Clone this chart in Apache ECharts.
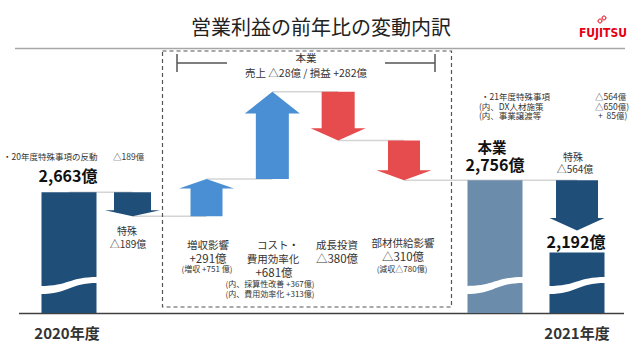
<!DOCTYPE html>
<html><head><meta charset="utf-8">
<script src="https://cdn.jsdelivr.net/npm/echarts/dist/echarts.min.js"></script>
<style>html,body{margin:0;padding:0;background:#fff}#c{width:641px;height:361px}</style>
</head><body><div id="c"></div>
<script>
// ---- data ----
const categories = ['2020年度','特殊','増収影響','コスト・費用効率化','成長投資','部材供給影響','本業','2021年度'];
const fy2020Profit = 2663;
const changeValues = [-189, 291, 681, -380, -310];   // 特殊, 増収影響, コスト・費用効率化, 成長投資, 部材供給影響
const special2021 = -564;
const fy2021Profit = 2192;
const bracketNote = ['本業', '売上 △28億 / 損益 +282億'];
const subNotes = {
  increase: ['(増収 +751 億)'],
  cost: ['(内、採算性改善 +367億)', '(内、費用効率化 +313億)'],
  supply: ['(減収△780億)']
};
const note2020 = ['・20年度特殊事項の反動', '△189億'];
const notes2021 = [['・21年度特殊事項', '△564億'], ['(内、DX人材施策', '△650億)'], ['(内、事業譲渡等', '+  85億)']];

// ---- derived ----
const levels = [fy2020Profit];
changeValues.forEach(d => levels.push(levels[levels.length - 1] + d));
const core2021 = levels[levels.length - 1];
const fmt = v => v.toLocaleString('en-US') + '億';
const fmtD = d => (d >= 0 ? '+' : '△') + Math.abs(d) + '億';

const yMin = 1720, yMax = 3850;
const navy = '#1f4e79', steel = '#6c8cab', blue = '#4a8fd3', red = '#e64b4e';
const JP = "'Noto Sans CJK JP','Noto Sans',sans-serif";

const items = [
  {grid:0, cat:0, kind:'bar', to:fy2020Profit, color:navy},
  {grid:0, cat:1, kind:'arrow', from:levels[0], to:levels[1], color:navy, bodyW:37},
  {grid:1, cat:0, kind:'arrow', from:levels[1], to:levels[2], color:blue, bodyW:32},
  {grid:1, cat:1, kind:'arrow', from:levels[2], to:levels[3], color:blue, bodyW:33},
  {grid:1, cat:2, kind:'arrow', from:levels[3], to:levels[4], color:red, bodyW:33},
  {grid:1, cat:3, kind:'arrow', from:levels[4], to:levels[5], color:red, bodyW:32},
  {grid:2, cat:0, kind:'bar', to:core2021, color:steel},
  {grid:2, cat:1, kind:'arrow', from:core2021, to:core2021 + special2021, color:navy, bodyW:42, tipGap:22},
  {grid:2, cat:1, kind:'bar', to:fy2021Profit, color:navy}
];
const gridCats = [categories.slice(0,2), categories.slice(2,6), categories.slice(6,8)];
const grids = [
  {left:37.25, width:127, top:40, bottom:48},
  {left:173.6, width:263.3, top:40, bottom:48},
  {left:454, width:164, top:40, bottom:48}
];

function makeRender(list) {
  return function (params, api) {
    const it = list[params.dataIndex];
    const c = api.value(0);
    const xc = api.coord([c, yMin])[0];
    const yb = api.coord([c, yMin])[1];
    if (it.kind === 'bar') {
      const w = 55, x0 = xc - w / 2, x1 = xc + w / 2;
      const yt = api.coord([c, api.value(2)])[1];
      const b = yb;
      const wave = `M${x0-1} ${b-27} C${x0+0.5*w} ${b-27} ${x1-0.5*w} ${b-36} ${x1+1} ${b-36} L${x1+1} ${b-30} C${x1-0.5*w} ${b-30} ${x0+0.5*w} ${b-19} ${x0-1} ${b-19} Z`;
      return {type:'group', children:[
        {type:'rect', shape:{x:x0, y:yt, width:w, height:yb - yt}, style:{fill:it.color}},
        {type:'path', shape:{pathData:wave}, style:{fill:'#fff'}}
      ]};
    }
    const yf = api.coord([c, api.value(1)])[1];
    let yto = api.coord([c, api.value(2)])[1];
    const dir = yto > yf ? 1 : -1;
    if (it.tipGap) yto -= dir * it.tipGap;
    const len = Math.abs(yto - yf);
    const hl = Math.max(6, 0.25 * len);
    const yh = yto - dir * hl;
    const bw = it.bodyW, hw = 55;
    const pts = [[xc-bw/2, yf],[xc+bw/2, yf],[xc+bw/2, yh],[xc+hw/2, yh],[xc, yto],[xc-hw/2, yh],[xc-bw/2, yh]];
    return {type:'polygon', shape:{points:pts}, style:{fill:it.color}};
  };
}

const series = [0,1,2].map(g => {
  const list = items.filter(it => it.grid === g);
  return {
    type:'custom', xAxisIndex:g, yAxisIndex:g, z:2,
    renderItem: makeRender(list),
    data: list.map(it => [it.cat, it.from == null ? yMin : it.from, it.to]),
    silent:true
  };
});

const chart = echarts.init(document.getElementById('c'), null, {renderer:'svg'});
chart.setOption({
  animation:false,
  grid: grids,
  xAxis: gridCats.map((d, i) => ({type:'category', data:d, gridIndex:i, show:false})),
  yAxis: [0,1,2].map(i => ({type:'value', gridIndex:i, min:yMin, max:yMax, show:false})),
  series
});

// connectors (through library scales)
const px = (it, v) => chart.convertToPixel({gridIndex:it.grid}, [it.cat, v]);
const seq = items.slice(0, 8);
const els = [];
for (let i = 0; i < seq.length - 1; i++) {
  const v = seq[i].to;
  const a = px(seq[i], v), b = px(seq[i+1], v);
  els.push({type:'line', z:0, shape:{x1:a[0], y1:a[1], x2:b[0], y2:b[1]}, style:{stroke:'#d4d4d4', lineWidth:1.5}});
}

function T(text, x, y, size, opt) {
  opt = opt || {};
  return {type:'text', z:10, style:{text, x, y, fill:opt.color || '#333',
    font:`${opt.weight || 'normal'} ${size}px ${opt.family || JP}`,
    lineHeight:size,
    align:opt.align || 'center', textAlign:opt.align || 'center',
    verticalAlign:'middle', textVerticalAlign:'middle'}};
}

// frame & decoration
els.push({type:'line', z:1, shape:{x1:15, y1:48.5, x2:625, y2:48.5}, style:{stroke:'#a6a6a6', lineWidth:1.5}});
els.push({type:'line', z:1, shape:{x1:19, y1:313.5, x2:624, y2:313.5}, style:{stroke:'#404040', lineWidth:1.5}});
els.push({type:'rect', z:1, shape:{x:162.5, y:51, width:289, height:256}, style:{fill:'none', stroke:'#555', lineWidth:1.2, lineDash:[4,3]}});
// bracket
const bk = {stroke:'#555', lineWidth:1.5};
els.push({type:'line', z:1, shape:{x1:177, y1:54, x2:177, y2:72}, style:bk});
els.push({type:'line', z:1, shape:{x1:177, y1:63, x2:227, y2:63}, style:bk});
els.push({type:'line', z:1, shape:{x1:385, y1:63, x2:435, y2:63}, style:bk});
els.push({type:'line', z:1, shape:{x1:435, y1:54, x2:435, y2:72}, style:bk});

// title & logo
els.push(T('営業利益の前年比の変動内訳', 321, 26, 20, {color:'#222'}));
els.push(T('FUJITSU', 603, 33, 12, {color:'#e60012', weight:'bold', family:"'Liberation Sans Narrow','DejaVu Sans Condensed',sans-serif"}));
els.push({type:'circle', z:10, shape:{cx:600, cy:21, r:2}, style:{fill:'none', stroke:'#e60012', lineWidth:1}});
els.push({type:'circle', z:10, shape:{cx:604, cy:18, r:2}, style:{fill:'none', stroke:'#e60012', lineWidth:1}});

// bracket note
els.push(T(bracketNote[0], 306, 57.5, 10.5));
els.push(T(bracketNote[1], 306, 72.5, 10.5));

// left
els.push(T(note2020[0], 3, 156, 8.5, {align:'left'}));
els.push(T(note2020[1], 113, 156, 8.5, {align:'left'}));
els.push(T(fmt(fy2020Profit), 68, 175, 16, {weight:'bold', color:'#111'}));
els.push(T(categories[1], 127, 230, 10));
els.push(T(fmtD(changeValues[0]), 128, 243, 10));
els.push(T(categories[0], 67, 332, 15, {weight:'bold', color:'#333'}));

// middle
els.push(T(categories[2], 208, 244.5, 10.5));
els.push(T(fmtD(changeValues[1]), 208, 257.5, 11.5));
els.push(T(subNotes.increase[0], 207, 268.5, 8));
els.push(T('コスト・', 278, 244.5, 10.5));
els.push(T('費用効率化', 273, 258, 10.5));
els.push(T(fmtD(changeValues[2]), 274, 271.5, 11.5));
els.push(T(subNotes.cost[0], 270, 283, 8));
els.push(T(subNotes.cost[1], 270, 293, 8));
els.push(T(categories[4], 337, 244.5, 10.5));
els.push(T(fmtD(changeValues[3]), 337, 258, 11.5));
els.push(T(categories[5], 403, 242.5, 10.5));
els.push(T(fmtD(changeValues[4]), 403, 256, 11.5));
els.push(T(subNotes.supply[0], 402, 268.5, 8));

// right
notes2021.forEach((n, i) => {
  els.push(T(n[0], i === 0 ? 481 : 479, 96 + i * 9.5, 8.5, {align:'left'}));
  els.push(T(n[1], i === 2 ? 598 : 595, 96 + i * 9.5, 8.5, {align:'left'}));
});
els.push(T(categories[6], 492, 146.5, 14.5, {weight:'bold', color:'#111'}));
els.push(T(fmt(core2021), 495, 163.5, 16, {weight:'bold', color:'#111'}));
els.push(T(categories[1], 573, 156, 10));
els.push(T(fmtD(special2021), 575, 168, 10));
els.push(T(fmt(fy2021Profit), 576, 241, 16, {weight:'bold', color:'#111'}));
els.push(T(categories[7], 577, 332, 15, {weight:'bold', color:'#333'}));

chart.setOption({graphic:{elements:els}});
</script></body></html>
